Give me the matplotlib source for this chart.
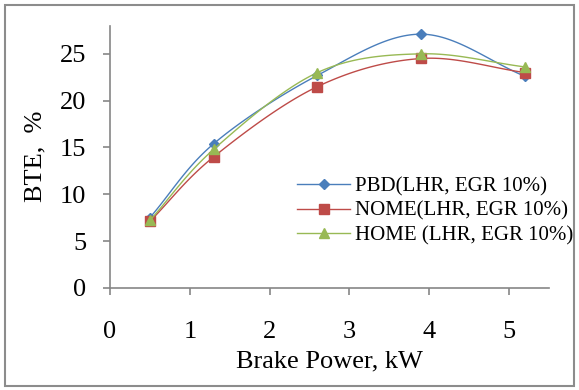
import numpy as np
import matplotlib.pyplot as plt
from matplotlib.patches import Rectangle

power = [0.5, 1.3, 2.6, 3.9, 5.2]
bte_pbd = [7.5, 15.4, 22.7, 27.1, 22.6]
bte_nome = [7.1, 14.0, 21.5, 24.5, 23.0]
bte_home = [7.2, 14.8, 23.0, 25.0, 23.6]
labels = ["PBD(LHR, EGR 10%)", "NOME(LHR, EGR 10%)", "HOME (LHR, EGR 10%)"]


def smooth(x, y, n=30):
    # catmull-rom through the points, like the office "smoothed line"
    x = np.asarray(x, float)
    y = np.asarray(y, float)
    px = np.concatenate([[2 * x[0] - x[1]], x, [2 * x[-1] - x[-2]]])
    py = np.concatenate([[2 * y[0] - y[1]], y, [2 * y[-1] - y[-2]]])
    xs, ys = [], []
    t = np.linspace(0, 1, n)
    for i in range(1, len(px) - 2):
        for p, out in ((px, xs), (py, ys)):
            p0, p1, p2, p3 = p[i - 1], p[i], p[i + 1], p[i + 2]
            out.extend(0.5 * (2 * p1 + (-p0 + p2) * t
                              + (2 * p0 - 5 * p1 + 4 * p2 - p3) * t ** 2
                              + (-p0 + 3 * p1 - 3 * p2 + p3) * t ** 3))
    return xs, ys


plt.rcParams['font.family'] = ['Liberation Serif', 'DejaVu Serif']

fig = plt.figure(figsize=(5.79, 3.90), dpi=100)
fig.patches.append(Rectangle((0.009, 0.01), 0.982, 0.978, transform=fig.transFigure,
                             fill=False, edgecolor='#8c8c8c', linewidth=1.5))
ax = fig.add_axes([0.19, 0.262, 0.758, 0.672])

series = [
    (bte_pbd, '#4a7ebb', 'D', 5),
    (bte_nome, '#be4b48', 's', 7),
    (bte_home, '#98b954', '^', 7),
]
for (vals, col, mk, ms), lab in zip(series, labels):
    sx, sy = smooth(power, vals)
    ax.plot(sx, sy, color=col, linewidth=1.0)
    ax.plot(power, vals, linestyle='none', marker=mk, markersize=ms, color=col)
    ax.plot([], [], color=col, marker=mk, markersize=ms, linewidth=1.0, label=lab)

ax.set_xlim(0, 5.5)
ax.set_ylim(0, 28)
ax.set_xticks([0, 1, 2, 3, 4, 5])
ax.set_yticks([0, 5, 10, 15, 20, 25])
for s in ['top', 'right']:
    ax.spines[s].set_visible(False)
for s in ['left', 'bottom']:
    ax.spines[s].set_color('#868686')
    ax.spines[s].set_linewidth(1.2)
ax.tick_params(direction='out', length=5, color='#868686', labelsize=19, width=1.2)
ax.tick_params(axis='x', pad=19)
ax.tick_params(axis='y', pad=12)
ax.set_xlabel('Brake Power, kW', fontsize=19, labelpad=5)
ax.set_ylabel('BTE,  %', fontsize=19, labelpad=10)

ax.legend(loc='upper left', bbox_to_anchor=(0.426, 0.425), frameon=False, fontsize=15,
          handlelength=2.55, handletextpad=0.25, labelspacing=0.25, borderpad=0,
          borderaxespad=0)

fig.savefig('out.png', dpi=100)
